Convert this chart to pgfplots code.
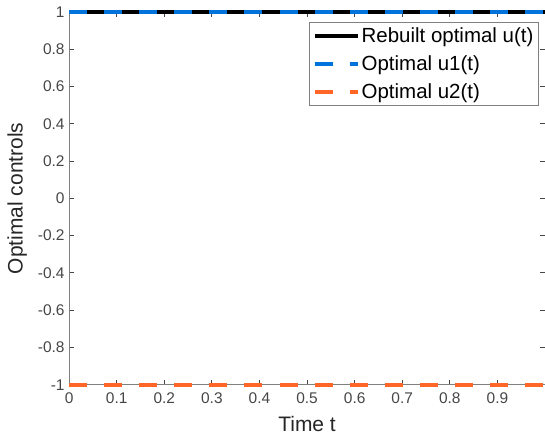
\documentclass[border=0pt]{standalone}
\usepackage{fontspec}
\setmainfont{Liberation Sans}
\usepackage{pgfplots}
\pgfplotsset{compat=1.18}
\definecolor{mblue}{RGB}{0,114,220}
\definecolor{morange}{RGB}{255,102,40}
\definecolor{axgray}{RGB}{128,128,128}
\definecolor{txtgray}{RGB}{70,70,70}
\begin{document}
\begin{tikzpicture}
\begin{axis}[
  width=475bp, height=372bp, scale only axis,
  xmin=0, xmax=1, ymin=-1, ymax=1,
  xtick={0,0.1,0.2,0.3,0.4,0.5,0.6,0.7,0.8,0.9},
  xticklabels={0,0.1,0.2,0.3,0.4,0.5,0.6,0.7,0.8,0.9},
  ytick={-1,-0.8,-0.6,-0.4,-0.2,0,0.2,0.4,0.6,0.8,1},
  yticklabels={-1,-0.8,-0.6,-0.4,-0.2,0,0.2,0.4,0.6,0.8,1},
  tick align=inside,
  major tick length=5bp,
  axis line style={axgray, line width=1bp},
  every tick/.style={txtgray, line width=0.8bp},
  tick label style={font=\fontsize{15.5}{18}\selectfont, text=txtgray},
  xticklabel style={yshift=-4bp},
  yticklabel style={xshift=-1bp},
  xlabel={Time t}, ylabel={Optimal controls},
  label style={font=\fontsize{21}{25}\selectfont, text=black!85},
  xlabel style={yshift=-6bp},
  ylabel style={yshift=4bp},
  legend style={at={(rel axis cs:0.987,0.973)}, anchor=north east,
    draw=axgray, line width=0.8bp, font=\fontsize{20.5}{24}\selectfont,
    inner xsep=3bp, inner ysep=3bp, row sep=8bp,
    /tikz/every odd column/.style={column sep=0bp}},
  legend cell align=left,
  legend image code/.code={\draw[#1] (0bp,0bp) -- (43bp,0bp);},
  clip=false,
]
\addplot[black, line width=4bp] coordinates {(0,1) (1,1)};
\addlegendentry{Rebuilt optimal u(t)}
\addplot[mblue, line width=4bp, dash pattern=on 18bp off 17bp] coordinates {(0,1) (1,1)};
\addlegendentry{Optimal u1(t)}
\addplot[morange, line width=4bp, dash pattern=on 18bp off 17bp] coordinates {(0,-1) (1,-1)};
\addlegendentry{Optimal u2(t)}
\coordinate (sw) at (rel axis cs:0,0);
\coordinate (ne) at (rel axis cs:1,1);
\end{axis}
\pgfresetboundingbox
\path ([shift={(-69bp,-54bp)}]sw) rectangle ([shift={(0bp,12bp)}]ne);
\end{tikzpicture}
\end{document}
